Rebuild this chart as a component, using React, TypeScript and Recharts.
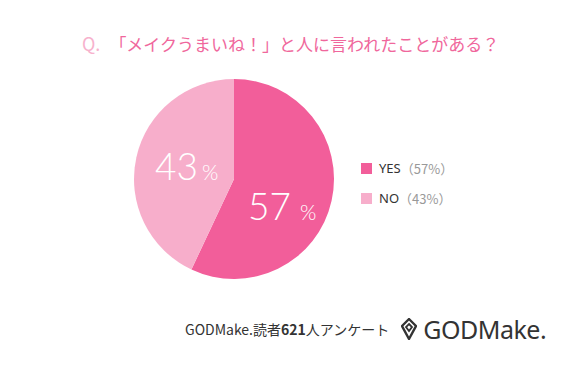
import React from 'react';
import { PieChart, Pie, Cell, Legend } from 'recharts';

const categories = ['YES', 'NO'];
const shares = [57, 43];
const sliceColors = ['#F25E9A', '#F7AECB'];

const title = '「メイクうまいね！」と人に言われたことがある？';
const readerCount = 621;

const data = categories.map((name, i) => ({ name, value: shares[i] }));

// label offsets as fractions of the radius (hand placed, like the original)
const labelOffsets = [
    { dx: 0.14, dy: 0.41 },
    { dx: -0.79, dy: 0.01 },
];

const renderLabel = (props: any) => {
    const { cx, cy, outerRadius, index, value } = props;
    const o = labelOffsets[index];
    const x = cx + o.dx * outerRadius;
    const y = cy + o.dy * outerRadius;
    return (
        <text x={x} y={y} fill="#fff" textAnchor="start" fontFamily="Lato, 'Noto Sans', sans-serif" fontWeight={300}>
            <tspan fontSize={37}>{value}</tspan>
            <tspan fontSize={21} dx={index === 0 ? 9 : 4}>%</tspan>
        </text>
    );
};

// the legend is drawn straight from the arrays so the order stays YES, NO
const LegendBox = () => (
    <div>
        {categories.map((name, i) => (
            <div key={name} style={{ display: 'flex', alignItems: 'center', height: 30, fontSize: 13, fontFamily: "'Noto Sans', 'Noto Sans CJK JP', sans-serif", whiteSpace: 'nowrap' }}>
                <span style={{ width: 11, height: 11, background: sliceColors[i], marginRight: 7 }} />
                <span style={{ color: '#333' }}>{name}</span>
                <span style={{ color: '#999', fontFamily: "'Noto Sans CJK JP', sans-serif" }}>（{shares[i]}%）</span>
            </div>
        ))}
    </div>
);

const Logo = () => (
    <svg width={16} height={22} viewBox="0 0 16 22" style={{ marginRight: 6 }}>
        <path d="M8 1 L15 8 L8 21 L1 8 Z" fill="none" stroke="#333" strokeWidth={2.4} strokeLinejoin="round" />
        <path d="M8 6 L11 9 L8 13 L5 9 Z" fill="none" stroke="#333" strokeWidth={1.8} />
    </svg>
);

export default function App() {
    return (
        <div style={{ position: 'relative', width: 580, height: 368, margin: -8, background: '#ececec', overflow: 'hidden' }}>
            <div style={{ position: 'absolute', left: 4, top: 5, width: 569, height: 357, background: '#fff' }} />
            <div style={{ position: 'absolute', left: 82, top: 30, fontFamily: "'Noto Sans CJK JP', sans-serif", fontSize: 17, whiteSpace: 'nowrap', color: '#F0679C' }}>
                <span style={{ color: '#F7B2CD', fontSize: 18, marginRight: 9 }}>Q.</span>
                {title}
            </div>
            <div style={{ position: 'absolute', left: 0, top: 0 }}>
                <PieChart width={580} height={368} margin={{ top: 0, right: 0, bottom: 0, left: 0 }}>
                    <Pie
                        data={data}
                        dataKey="value"
                        nameKey="name"
                        cx={234}
                        cy={179}
                        outerRadius={100}
                        startAngle={90}
                        endAngle={-270}
                        stroke="none"
                        label={renderLabel}
                        labelLine={false}
                        isAnimationActive={false}
                    >
                        {data.map((d, i) => (
                            <Cell key={d.name} fill={sliceColors[i]} />
                        ))}
                    </Pie>
                    <Legend
                        content={<LegendBox />}
                        layout="vertical"
                        wrapperStyle={{ position: 'absolute', left: 361, top: 153, width: 130 }}
                    />
                </PieChart>
            </div>
            <div style={{ position: 'absolute', left: 185, top: 312, display: 'flex', alignItems: 'center', whiteSpace: 'nowrap' }}>
                <span style={{ fontFamily: "'Noto Sans CJK JP', sans-serif", fontSize: 14, color: '#333' }}>
                    GODMake.読者<b>{readerCount}</b>人アンケート
                </span>
                <span style={{ display: 'flex', alignItems: 'center', marginLeft: 12 }}>
                    <Logo />
                    <span style={{ fontFamily: "'Noto Sans', sans-serif", fontSize: 25, color: '#333', letterSpacing: -0.5 }}>GODMake.</span>
                </span>
            </div>
        </div>
    );
}
